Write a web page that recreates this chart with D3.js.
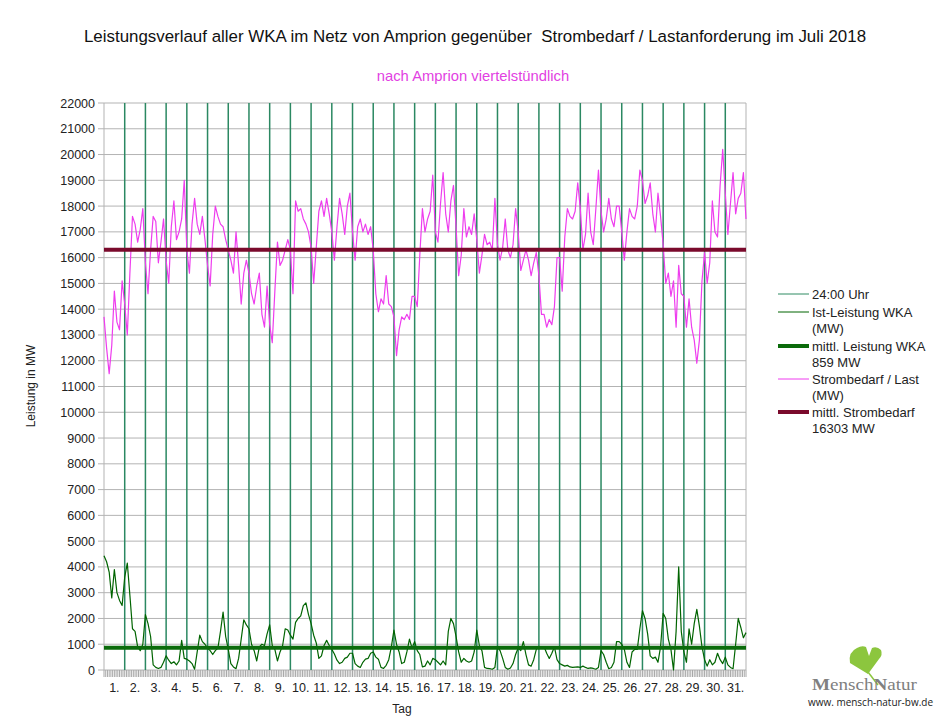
<!DOCTYPE html>
<html lang="de">
<head>
<meta charset="utf-8">
<title>Leistungsverlauf WKA Amprion Juli 2018</title>
<script src="https://d3js.org/d3.v7.min.js"></script>
<style>
  body { margin: 0; background: #fff; }
  text { font-family: "Liberation Sans", Arial, sans-serif; }
</style>
</head>
<body>
<script>
// Tag-Beschriftungen und Y-Ticks
var dayLabels = ["1.","2.","3.","4.","5.","6.","7.","8.","9.","10.","11.","12.","13.","14.","15.","16.",
                 "17.","18.","19.","20.","21.","22.","23.","24.","25.","26.","27.","28.","29.","30.","31."];
var yTickValues = [0,1000,2000,3000,4000,5000,6000,7000,8000,9000,10000,11000,
                   12000,13000,14000,15000,16000,17000,18000,19000,20000,21000,22000];

// Werte alle 3 Stunden (8 pro Tag)
var samplesPerDay = 8;

// Strombedarf / Last (MW)
var lastMW = [
  13700,12500,11500,12600,14700,13500,13200,15100,  // 1.
  14200,13000,15400,17600,17300,16600,17100,17900,  // 2.
  15800,14600,16300,17600,17400,15800,16600,17500,  // 3.
  15900,15000,17200,18200,16700,17000,17500,19000,  // 4.
  16300,15400,17300,18300,17300,16900,17600,16700,  // 5.
  15700,14900,16900,18000,17600,17300,17200,16700,  // 6.
  16300,15900,15400,17000,15700,14200,15400,15900,  // 7.
  15400,14600,14200,14900,15400,13800,13300,14900,  // 8.
  13400,12700,14700,16600,15700,15900,16300,16700,  // 9.
  16300,14600,18200,17800,17900,17500,17300,17000,  // 10.
  16400,15000,16400,17800,18200,17600,18300,17700,  // 11.
  17000,15900,17200,18300,17700,16900,18000,18500,  // 12.
  17000,15900,17200,17500,17000,17300,16900,17200,  // 13.
  16300,14600,13900,14400,14200,15300,14200,14100,  // 14.
  13700,12200,13200,13700,13600,13800,13600,14500,  // 15.
  14500,14100,16100,17900,17000,17500,17800,19200,  // 16.
  17000,16600,18100,19300,17700,17000,18200,18800,  // 17.
  17200,15300,16100,17900,16800,17200,16900,17700,  // 18.
  16700,15400,16100,16900,16500,16600,16300,18300,  // 19.
  16500,15900,16400,17500,16300,16000,16500,17900,  // 20.
  17000,15500,15900,16300,15900,15300,15800,16200,  // 21.
  15300,13800,13800,13300,13600,13400,14100,16000,  // 22.
  16000,14700,16800,17900,17600,17500,17800,18900,  // 23.
  17900,16300,16900,18500,17000,16500,17900,19400,  // 24.
  17800,17000,17500,18300,17500,17200,18000,18000,  // 25.
  17000,15900,17000,17900,17600,17500,18000,19400,  // 26.
  19000,18100,18400,18900,17700,17000,18500,17600,  // 27.
  16500,15000,15400,14500,15100,13300,15700,14600,  // 28.
  14500,13300,14400,13300,12800,11900,12800,15100,  // 29.
  16200,15000,15800,18200,17000,16800,18800,20200,  // 30.
  18500,16900,18100,19300,17700,18300,18500,19300,  // 31.
  17500
];

// Ist-Leistung WKA (MW)
var wkaMW = [
  4430,4200,3800,2800,3900,3000,2700,2500,  // 1.
  3600,4150,2900,1600,1500,900,750,1000,    // 2.
  2150,1800,1300,200,100,60,100,300,        // 3.
  550,380,250,320,200,350,1150,450,         // 4.
  420,350,250,30,700,1350,1100,1000,        // 5.
  850,750,600,750,850,1500,2250,1300,       // 6.
  800,250,120,50,450,1200,1950,1750,        // 7.
  1600,1000,750,350,900,1000,950,1400,      // 8.
  1750,950,800,350,700,950,1600,1550,       // 9.
  1350,1200,1850,2000,2100,2500,2600,2150,  // 10.
  1800,1350,1050,450,550,950,1150,950,      // 11.
  800,620,380,250,300,450,500,650,          // 12.
  650,250,150,100,300,420,450,650,          // 13.
  700,500,420,100,60,180,400,900,           // 14.
  1550,1000,700,250,300,700,1200,850,       // 15.
  1100,750,600,120,150,350,200,450,         // 16.
  400,300,200,350,200,1500,2000,1800,       // 17.
  1300,700,300,450,350,300,350,700,         // 18.
  1550,950,750,100,60,50,30,100,            // 19.
  900,750,450,100,30,80,250,600,            // 20.
  850,750,1100,600,200,150,400,800,         // 21.
  900,850,900,650,450,650,900,400,          // 22.
  250,200,150,180,120,100,110,120,          // 23.
  100,150,100,60,80,60,30,100,              // 24.
  750,600,300,50,100,300,1100,1100,         // 25.
  1000,800,300,100,700,800,800,1600,        // 26.
  2300,2000,1400,550,450,500,300,900,       // 27.
  2200,2000,1200,800,0,1500,4000,1500,      // 28.
  700,300,1600,1000,1800,2350,1700,900,     // 29.
  400,150,400,200,300,650,400,250,          // 30.
  500,200,100,50,1000,2000,1650,1250,       // 31.
  1450
];

var meanWKA = 859;
var meanLast = 16303;

var legendItems = [
  {lines: ["24:00 Uhr"], color: "#2e8b63", width: 1},
  {lines: ["Ist-Leistung WKA", "(MW)"], color: "#006400", width: 1},
  {lines: ["mittl. Leistung WKA", meanWKA + " MW"], color: "#0b6b0b", width: 4},
  {lines: ["Strombedarf / Last", "(MW)"], color: "#ee3dee", width: 1},
  {lines: ["mittl. Strombedarf", meanLast + " MW"], color: "#7a0a2c", width: 4}
];

var W = 945, H = 718;
var svg = d3.select("body").append("svg")
    .attr("width", W)
    .attr("height", H);

var plotL = 104, plotR = 746, plotT = 103, plotB = 670;

var x = d3.scaleLinear().domain([0, 31]).range([plotL, plotR]);
var y = d3.scaleLinear().domain([0, 22000]).range([plotB, plotT]);

// Titel
svg.append("text")
    .attr("x", 475).attr("y", 42)
    .attr("text-anchor", "middle")
    .attr("font-size", "16.9px")
    .attr("fill", "#111")
    .style("white-space", "pre")
    .text("Leistungsverlauf aller WKA im Netz von Amprion gegenüber  Strombedarf / Lastanforderung im Juli 2018");

svg.append("text")
    .attr("x", 473).attr("y", 81)
    .attr("text-anchor", "middle")
    .attr("font-size", "14.8px")
    .attr("fill", "#e23fe2")
    .text("nach Amprion viertelstündlich");

// Gitter horizontal
svg.append("g").selectAll("line")
    .data(yTickValues)
    .enter().append("line")
    .attr("x1", plotL - 6).attr("x2", plotR)
    .attr("y1", function(d){ return y(d); })
    .attr("y2", function(d){ return y(d); })
    .attr("stroke", "#b3b3b3")
    .attr("stroke-width", 1);

svg.append("g").selectAll("text")
    .data(yTickValues)
    .enter().append("text")
    .attr("x", plotL - 9)
    .attr("y", function(d){ return y(d) + 4.5; })
    .attr("text-anchor", "end")
    .attr("font-size", "12.5px")
    .attr("fill", "#222")
    .text(function(d){ return d; });

// Rahmen links/rechts
svg.append("line").attr("x1", plotL).attr("x2", plotL).attr("y1", plotT).attr("y2", plotB)
    .attr("stroke", "#b3b3b3");
svg.append("line").attr("x1", plotR).attr("x2", plotR).attr("y1", plotT).attr("y2", plotB)
    .attr("stroke", "#b3b3b3");

// Ticks unten (alle 2 Stunden)
svg.append("g").selectAll("line")
    .data(d3.range(0, 31 * 12 + 1))
    .enter().append("line")
    .attr("x1", function(d){ return x(d / 12); })
    .attr("x2", function(d){ return x(d / 12); })
    .attr("y1", plotB).attr("y2", plotB + 7)
    .attr("stroke", "#a8a8a8")
    .attr("stroke-width", 1);

// 24:00 Uhr Linien
svg.append("g").selectAll("line")
    .data(d3.range(1, 31))
    .enter().append("line")
    .attr("x1", function(d){ return x(d); })
    .attr("x2", function(d){ return x(d); })
    .attr("y1", plotT).attr("y2", plotB)
    .attr("stroke", "#2b8862")
    .attr("stroke-width", 1.5);

// Tag-Beschriftung
svg.append("g").selectAll("text")
    .data(dayLabels)
    .enter().append("text")
    .attr("x", function(d, i){ return x(i + 0.5); })
    .attr("y", 692)
    .attr("text-anchor", "middle")
    .attr("font-size", "12.5px")
    .attr("fill", "#222")
    .text(function(d){ return d; });

svg.append("text")
    .attr("x", 402).attr("y", 713)
    .attr("text-anchor", "middle")
    .attr("font-size", "12px")
    .attr("fill", "#222")
    .text("Tag");

svg.append("text")
    .attr("transform", "translate(35,386) rotate(-90)")
    .attr("text-anchor", "middle")
    .attr("font-size", "12px")
    .attr("fill", "#222")
    .text("Leistung in MW");

// Kurven
var line = d3.line()
    .x(function(d, i){ return x(i / samplesPerDay); })
    .y(function(d){ return y(d); });

svg.append("path")
    .datum(lastMW)
    .attr("d", line)
    .attr("fill", "none")
    .attr("stroke", "#ee3dee")
    .attr("stroke-width", 1.2)
    .attr("stroke-linejoin", "round");

svg.append("path")
    .datum(wkaMW)
    .attr("d", line)
    .attr("fill", "none")
    .attr("stroke", "#006400")
    .attr("stroke-width", 1.2)
    .attr("stroke-linejoin", "round");

// Mittelwerte
svg.append("line")
    .attr("x1", plotL).attr("x2", plotR)
    .attr("y1", y(meanWKA)).attr("y2", y(meanWKA))
    .attr("stroke", "#0b6b0b").attr("stroke-width", 4);

svg.append("line")
    .attr("x1", plotL).attr("x2", plotR)
    .attr("y1", y(meanLast)).attr("y2", y(meanLast))
    .attr("stroke", "#7a0a2c").attr("stroke-width", 4);

// Legende
var legendY = [294, 312, 346, 379, 412];
var leg = svg.append("g");
legendItems.forEach(function(item, i){
  leg.append("line")
      .attr("x1", 778).attr("x2", 809)
      .attr("y1", legendY[i]).attr("y2", legendY[i])
      .attr("stroke", item.color)
      .attr("stroke-width", item.width);
  item.lines.forEach(function(t, j){
    leg.append("text")
        .attr("x", 812)
        .attr("y", legendY[i] + 5 + j * 15.5)
        .attr("font-size", "13px")
        .attr("fill", "#222")
        .text(t);
  });
});

// Logo (Ginkgoblatt)
var logo = svg.append("g");
logo.append("path")
    .attr("d", "M868,674 L850,663 Q848,652 857,648 Q862,645 866,647 L869,656 L872,648 Q877,646 881,650 Q883,655 879,659 Z")
    .attr("fill", "#8cc63e");
logo.append("line")
    .attr("x1", 868).attr("y1", 672).attr("x2", 878).attr("y2", 685)
    .attr("stroke", "#8cc63e").attr("stroke-width", 1.5);

var brand = logo.append("text")
    .attr("x", 812).attr("y", 690)
    .attr("font-size", "17px")
    .attr("fill", "#808080")
    .style("font-family", "'Liberation Serif', 'DejaVu Serif', serif")
    .attr("textLength", 105)
    .attr("lengthAdjust", "spacingAndGlyphs");
brand.append("tspan").attr("font-weight", "bold").text("M");
brand.append("tspan").text("ensch");
brand.append("tspan").attr("font-weight", "bold").text("N");
brand.append("tspan").text("atur");

logo.append("text")
    .attr("x", 808).attr("y", 706)
    .attr("font-size", "11px")
    .attr("fill", "#222")
    .style("font-family", "'Open Sans', 'DejaVu Sans', sans-serif")
    .attr("textLength", 125)
    .attr("lengthAdjust", "spacingAndGlyphs")
    .text("www. mensch-natur-bw.de");
</script>
</body>
</html>
